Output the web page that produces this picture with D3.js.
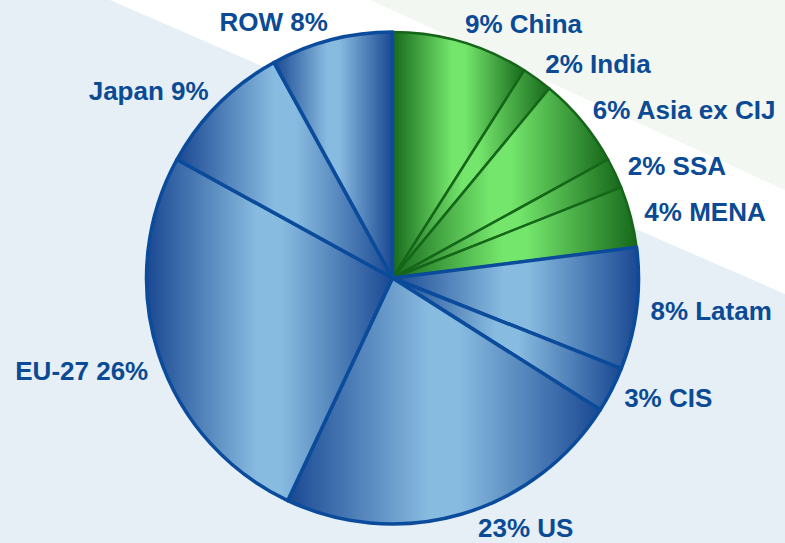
<!DOCTYPE html>
<html>
<head>
<meta charset="utf-8">
<script src="https://cdn.jsdelivr.net/npm/d3@7"></script>
<style>
  html, body { margin: 0; padding: 0; background: #e6eff6; }
  svg { display: block; }
  .label { font-family: "Liberation Sans", Arial, sans-serif; font-weight: bold; font-size: 26px; fill: #0b4a94; }
</style>
</head>
<body>
<svg id="chart"></svg>
<script>
// shares, clockwise from 12 o'clock
const regions = ['China', 'India', 'Asia ex CIJ', 'SSA', 'MENA', 'Latam', 'CIS', 'US', 'EU-27', 'Japan', 'ROW'];
const shares = [9, 2, 6, 2, 4, 8, 3, 23, 26, 9, 8];
const groups = ['green', 'green', 'green', 'green', 'green', 'blue', 'blue', 'blue', 'blue', 'blue', 'blue'];

const width = 785;
const height = 543;
const cx = 392.5, cy = 278, radius = 246;
// labels sit on a slightly taller ring than the pie
const labelRx = 260, labelRy = 264;

// small hand nudges where the original labels sit off the common ring
const labelNudge = { 'US': [13, -4], 'EU-27': [3, 11] };

const svg = d3.select('svg#chart').attr('width', width).attr('height', height);

// background bands
svg.append('rect').attr('width', width).attr('height', height).attr('fill', '#e6eff6');
svg.append('polygon').attr('points', '110,0 785,0 785,294').attr('fill', '#ffffff');
svg.append('polygon').attr('points', '370,0 785,0 785,190').attr('fill', '#f2f7f2');

const defs = svg.append('defs');
function addGradient(id, dark, light) {
  const g = defs.append('linearGradient').attr('id', id)
    .attr('x1', 0).attr('y1', 0).attr('x2', 1).attr('y2', 0);
  g.append('stop').attr('offset', 0).attr('stop-color', dark);
  g.append('stop').attr('offset', 0.45).attr('stop-color', light);
  g.append('stop').attr('offset', 0.55).attr('stop-color', light);
  g.append('stop').attr('offset', 1).attr('stop-color', dark);
}
addGradient('grad-blue', '#1a4892', '#88bbe0');
addGradient('grad-green', '#17691b', '#74e66c');

const colors = {
  blue: { fill: 'url(#grad-blue)', stroke: '#0a4b9b', width: 3.5 },
  green: { fill: 'url(#grad-green)', stroke: '#16661a', width: 2.5 }
};

const data = regions.map((r, i) => ({ region: r, share: shares[i], group: groups[i] }));

const pie = d3.pie().sort(null).value(d => d.share);
const arcs = pie(data);
const arc = d3.arc().innerRadius(0).outerRadius(radius);

const g = svg.append('g').attr('transform', 'translate(' + cx + ',' + cy + ')');

// green slices first so the blue outlines sit on top
const drawOrder = arcs.filter(d => d.data.group === 'green').concat(arcs.filter(d => d.data.group === 'blue'));

g.selectAll('path.slice').data(drawOrder)
  .enter().append('path')
  .attr('class', 'slice')
  .attr('d', arc)
  .attr('fill', d => colors[d.data.group].fill)
  .attr('stroke', d => colors[d.data.group].stroke)
  .attr('stroke-width', d => colors[d.data.group].width)
  .attr('stroke-linejoin', 'round');

function labelPos(d) {
  const a = (d.startAngle + d.endAngle) / 2;
  const n = labelNudge[d.data.region] || [0, 0];
  return [labelRx * Math.sin(a) + n[0], -labelRy * Math.cos(a) + 9 + n[1]];
}

function labelText(d) {
  const x = labelPos(d)[0];
  return x >= 0 ? d.data.share + '% ' + d.data.region : d.data.region + ' ' + d.data.share + '%';
}

g.selectAll('text.label').data(arcs)
  .enter().append('text')
  .attr('class', 'label')
  .attr('x', d => labelPos(d)[0])
  .attr('y', d => labelPos(d)[1])
  .attr('text-anchor', d => labelPos(d)[0] >= 0 ? 'start' : 'end')
  .text(labelText);
</script>
</body>
</html>
